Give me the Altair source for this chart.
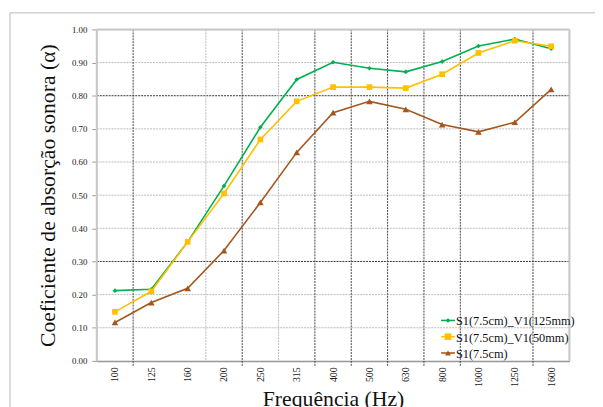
import altair as alt
import pandas as pd

freqs = ["100", "125", "160", "200", "250", "315", "400", "500", "630", "800", "1000", "1250", "1600"]
s_125 = [0.212, 0.216, 0.359, 0.528, 0.705, 0.849, 0.901, 0.883, 0.872, 0.903, 0.950, 0.971, 0.942]
s_50 = [0.148, 0.210, 0.359, 0.505, 0.668, 0.783, 0.826, 0.826, 0.823, 0.865, 0.929, 0.966, 0.949]
s_base = [0.116, 0.176, 0.219, 0.333, 0.478, 0.629, 0.749, 0.783, 0.759, 0.713, 0.691, 0.720, 0.819]
series_names = ["S1(7.5cm)_V1(125mm)", "S1(7.5cm)_V1(50mm)", "S1(7.5cm)"]
colors = ["#00B050", "#FFC000", "#A5561C"]
shapes = ["diamond", "square", "triangle-up"]
sizes = [22, 45, 35]

# vertical grid boundaries (between categories) and their shade
vgrid_pos = [0.5, 2.5, 3.5, 4.5, 5.5, 6.5, 7.5, 8.5, 9.5, 11.5]
vgrid_dark = [True, False, True, False, True, True, True, True, True, True]
hgrid_vals = [0.1, 0.2, 0.4, 0.5, 0.6, 0.7, 0.9]
hgrid_dark_vals = [0.3, 0.8]

rows = []
for name, vals in zip(series_names, [s_125, s_50, s_base]):
    for i, v in enumerate(vals):
        rows.append({"idx": i, "freq": freqs[i], "value": v, "series": name})
df = pd.DataFrame(rows)

W, H = 479, 336
label_expr = "[" + ",".join('"%s"' % f for f in freqs) + "][datum.value]"

xscale = alt.Scale(domain=[-0.5, 12.5], nice=False, zero=False)
yscale = alt.Scale(domain=[0, 1], nice=False)

serif = "'Liberation Serif', 'Times New Roman', 'DejaVu Serif', serif"

x_axis = alt.Axis(values=list(range(13)), labelExpr=label_expr, labelAngle=-90,
                  labelAlign="right", labelBaseline="middle", labelFont=serif,
                  labelFontSize=10, labelColor="#222", labelPadding=6, ticks=False,
                  labelOverlap=False, labelBound=False, labelFlush=False,
                  grid=False, domainColor="#999", domainWidth=1.5,
                  title="Frequência (Hz)", titleFont=serif, titleFontSize=22,
                  titleFontWeight="normal", titleColor="#111", titlePadding=2)
y_axis = alt.Axis(values=[i / 10 for i in range(11)], format=".2f", labelFont=serif,
                  labelFontSize=9, labelColor="#222", labelPadding=5, tickSize=5,
                  tickColor="#999", grid=False, domain=False, labelOverlap=False,
                  labelBound=False, labelFlush=False,
                  title="Coeficiente de absorção sonora (α)", titleFont=serif,
                  titleFontSize=22, titleFontWeight="normal", titleColor="#111",
                  titlePadding=12)

X = lambda f: alt.X(f, scale=xscale, axis=x_axis)
Y = lambda f: alt.Y(f, scale=yscale, axis=y_axis)

# horizontal grid
hg = alt.Chart(pd.DataFrame({"value": hgrid_vals})).mark_rule(
    color="#bbbbbb", strokeDash=[2, 1], strokeWidth=1).encode(y=Y("value:Q"))
hgd = alt.Chart(pd.DataFrame({"value": hgrid_dark_vals})).mark_rule(
    color="#333333", strokeDash=[2, 1], strokeWidth=1).encode(y=Y("value:Q"))

vdf = pd.DataFrame({"idx": vgrid_pos, "dark": vgrid_dark})
vg_dark = alt.Chart(vdf[vdf.dark]).mark_rule(
    color="#444444", strokeDash=[2, 1], strokeWidth=1).encode(
    x=X("idx:Q"), y=alt.value(0), y2=alt.value(H + 6))
vg_light = alt.Chart(vdf[~vdf.dark]).mark_rule(
    color="#bbbbbb", strokeDash=[2, 1], strokeWidth=1).encode(
    x=X("idx:Q"), y=alt.value(0), y2=alt.value(H))

# plot area frame (top, left, right)
frame = alt.Chart(pd.DataFrame({"a": [0]})).mark_rule(color="#c8c8c8", strokeWidth=2)
f_top = frame.encode(x=alt.value(0), x2=alt.value(W), y=alt.value(0))
f_left = frame.encode(x=alt.value(0), y=alt.value(0), y2=alt.value(H))
f_right = frame.encode(x=alt.value(W), y=alt.value(0), y2=alt.value(H))

# outer chart border
border = alt.Chart(pd.DataFrame({"a": [0]})).mark_rule(color="#d0d0d0", strokeWidth=1.5)
b_top = border.encode(x=alt.value(-88), x2=alt.value(W + 40), y=alt.value(-17))
b_left = border.encode(x=alt.value(-88), y=alt.value(-17), y2=alt.value(H + 60))

color_scale = alt.Scale(domain=series_names, range=colors)
shape_scale = alt.Scale(domain=series_names, range=shapes)
size_scale = alt.Scale(domain=series_names, range=sizes)

lines = alt.Chart(df).mark_line(strokeWidth=1.6).encode(
    x=X("idx:Q"), y=Y("value:Q"),
    color=alt.Color("series:N", scale=color_scale, sort=series_names, legend=None),
    detail="series:N")

points = alt.Chart(df).mark_point(filled=True, opacity=1).encode(
    x=X("idx:Q"), y=Y("value:Q"),
    color=alt.Color("series:N", scale=color_scale, sort=series_names, legend=None),
    shape=alt.Shape("series:N", scale=shape_scale, sort=series_names, legend=None),
    size=alt.Size("series:N", scale=size_scale, sort=series_names, legend=None))

# manual legend inside lower right
leg_df = pd.DataFrame({"series": series_names})
leg_layers = []
for k, name in enumerate(series_names):
    yk = H - 41 + 16.5 * k
    base = alt.Chart(leg_df).transform_filter(alt.datum.series == name)
    leg_layers.append(base.mark_rule(color=colors[k], strokeWidth=1.6).encode(
        x=alt.value(W - 130), x2=alt.value(W - 116), y=alt.value(yk)))
    leg_layers.append(base.mark_point(filled=True, opacity=1, color=colors[k],
                                      shape=shapes[k], size=sizes[k]).encode(
        x=alt.value(W - 123), y=alt.value(yk)))
    leg_layers.append(base.mark_text(align="left", baseline="middle", font=serif,
                                     fontSize=12.5, color="#111").encode(
        x=alt.value(W - 115), y=alt.value(yk + 1), text="series:N"))

chart = alt.layer(hg, hgd, vg_light, vg_dark, f_top, f_left, f_right, b_top, b_left,
                  lines, points, *leg_layers).properties(
    width=W, height=H,
    autosize=alt.AutoSizeParams(type="none"),
    padding={"left": 90, "top": 19, "right": 26, "bottom": 44},
).configure_view(stroke=None).configure_axis(labelOverlap=False).configure(
    background="white")

chart.save("out.html", embed_options={"renderer": "svg", "actions": False})
